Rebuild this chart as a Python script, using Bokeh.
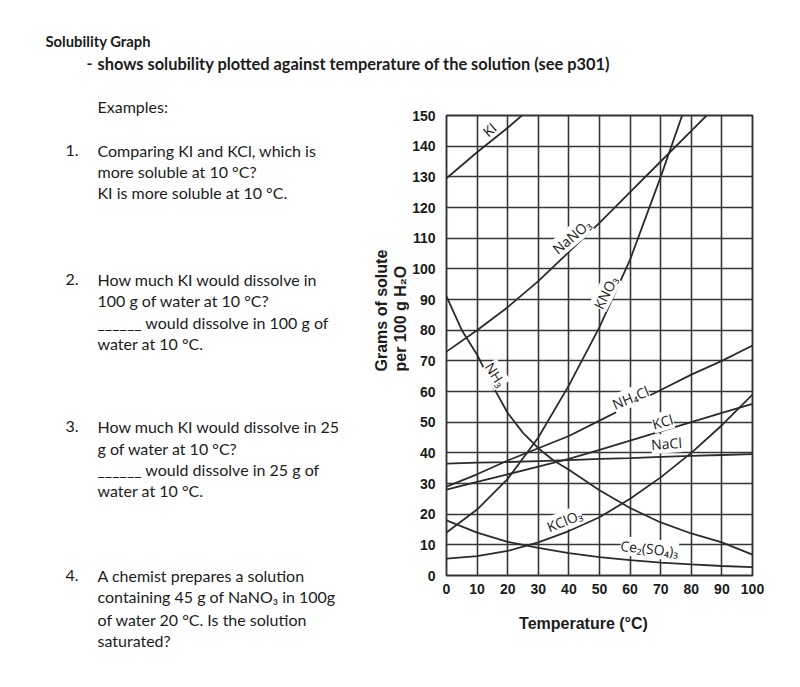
from math import radians
from bokeh.plotting import figure
from bokeh.models import Range1d, Label, FixedTicker
from bokeh.layouts import column, row
from bokeh.core.properties import value
from bokeh.embed import file_html
from bokeh.resources import INLINE

# ---------------- data ----------------
temps = [0, 10, 20, 30, 40, 50, 60, 70, 80, 90, 100]

ki_t = [0, 10, 20, 25]
ki_s = [129.5, 138, 146, 150.3]

nano3_t = [0, 10, 20, 30, 40, 50, 60, 70, 80, 85]
nano3_s = [73, 80, 87.5, 96, 105.5, 115, 125, 135, 145, 150]

kno3_t = [0, 10, 20, 30, 40, 50, 60, 70, 77]
kno3_s = [14, 21.5, 31.5, 45, 62, 81, 103, 130, 150]

nh3_t = [0, 5, 10, 15, 20, 25, 30, 35, 40, 50, 60, 70, 80, 90, 100]
nh3_s = [91, 80, 72, 62, 53, 46.5, 41.5, 37.5, 34.5, 27.8, 22, 17.3, 13.7, 10.8, 6.8]

nh4cl_s = [29, 33, 37.5, 41.5, 45.5, 50.5, 55.5, 60.5, 65.5, 70, 75]
kcl_s = [28, 30.5, 33, 35.5, 38, 41, 44, 47, 50, 53, 56]
nacl_s = [36.5, 36.8, 37, 37.3, 37.6, 38, 38.3, 38.7, 39, 39.3, 39.6]
kclo3_s = [5.5, 6.3, 8, 10.8, 14.5, 19, 25, 32, 40, 49, 59]
ce2so43_s = [18, 14, 11, 9, 7.3, 6, 5, 4.2, 3.6, 3.1, 2.7]

x_ticks = list(range(0, 101, 10))
y_ticks = list(range(0, 151, 10))

# ---------------- layout geometry (page pixels) ----------------
W = 784
Y_TOP = 88       # top strip: 0 .. 88
Y_MID = 606      # middle row: 88 .. 606
Y_END = 676      # bottom strip: 606 .. 676
X_SPLIT = 409    # left text panel: 0 .. 409, chart figure: 409 .. 784
FRAME_L, FRAME_T, FRAME_W, FRAME_H = 442, 115, 310, 460


def text_panel(x0, x1, y0, y1):
    f = figure(width=x1 - x0, height=y1 - y0, output_backend="svg",
               toolbar_location=None, tools="",
               x_range=Range1d(x0, x1), y_range=Range1d(y1, y0),
               x_axis_type=None, y_axis_type=None,
               min_border_left=0, min_border_right=0,
               min_border_top=0, min_border_bottom=0)
    f.outline_line_color = None
    f.background_fill_color = "white"
    f.border_fill_color = "white"
    f.frame_align = False
    return f


top = text_panel(0, W, 0, Y_TOP)
left = text_panel(0, X_SPLIT, Y_TOP, Y_MID)
bottom = text_panel(0, W, Y_MID, Y_END)


def put(fig, px, py, s, size="16px", font="Lato", bold=False, align="left",
        angle=0, color="#1c1c1c", baseline="alphabetic"):
    fig.text(x=[px], y=[py], text=[s], text_font=value(font),
             text_font_size=size, text_font_style="bold" if bold else "normal",
             text_align=align, text_baseline=baseline, angle=radians(angle),
             text_color=color)


# header
put(top, 45, 40, "Solubility Graph", bold=True, size="14.8px")
put(top, 86, 63, "-", bold=True, size="16px")
put(top, 97, 63, "shows solubility plotted against temperature of the solution (see p301)",
    bold=True, size="16.4px")

# left text panel
TX, NX = 97, 65
put(left, TX, 106, "Examples:")

put(left, NX, 150, "1.")
put(left, TX, 150, "Comparing KI and KCl, which is")
put(left, TX, 171, "more soluble at 10 °C?")
put(left, TX, 192, "KI is more soluble at 10 °C.")

put(left, NX, 279, "2.")
put(left, TX, 279, "How much KI would dissolve in")
put(left, TX, 300, "100 g of water at 10 °C?")
put(left, TX, 321.5, "______ would dissolve in 100 g of")
put(left, TX, 343, "water at 10 °C.")

put(left, NX, 426, "3.")
put(left, TX, 426, "How much KI would dissolve in 25")
put(left, TX, 447.5, "g of water at 10 °C?")
put(left, TX, 468.5, "______ would dissolve in 25 g of")
put(left, TX, 490, "water at 10 °C.")

put(left, NX, 575, "4.")
put(left, TX, 575, "A chemist prepares a solution")
put(left, TX, 596, "containing 45 g of NaNO₃ in 100g")
put(bottom, TX, 618.5, "of water 20 °C.  Is the solution")
put(bottom, TX, 640, "saturated?")

# axis titles
put(left, 381, 371, "Grams of solute", size="16px", font="Liberation Sans",
    bold=True, angle=90)
put(left, 400, 371, "per 100 g H₂O", size="16px", font="Liberation Sans",
    bold=True, angle=90)
put(bottom, 583, 623, "Temperature (°C)", size="16px", font="Liberation Sans",
    bold=True, align="center")

# ---------------- chart ----------------
p = figure(width=W - X_SPLIT, height=Y_MID - Y_TOP, output_backend="svg",
           toolbar_location=None, tools="",
           x_range=Range1d(0, 100), y_range=Range1d(0, 150),
           min_border_left=FRAME_L - X_SPLIT,
           min_border_right=W - FRAME_L - FRAME_W,
           min_border_top=FRAME_T - Y_TOP,
           min_border_bottom=Y_MID - FRAME_T - FRAME_H)
p.frame_align = False
p.background_fill_color = "white"
p.border_fill_color = "white"
p.outline_line_color = "#333333"
p.outline_line_width = 1.9

for ax in (p.xaxis[0], p.yaxis[0]):
    ax.axis_line_color = None
    ax.major_tick_line_color = None
    ax.minor_tick_line_color = None
    ax.major_label_text_font = "Liberation Sans"
    ax.major_label_text_font_style = "bold"
    ax.major_label_text_font_size = "14px"
    ax.major_label_text_color = "#1a1a1a"
p.xaxis.ticker = FixedTicker(ticks=x_ticks)
p.yaxis.ticker = FixedTicker(ticks=y_ticks)
p.xaxis.major_label_standoff = 2
p.yaxis.major_label_standoff = 5

p.xgrid.ticker = FixedTicker(ticks=x_ticks)
p.ygrid.ticker = FixedTicker(ticks=y_ticks)
for g in (p.xgrid[0], p.ygrid[0]):
    g.grid_line_color = "#363636"
    g.grid_line_width = 1.6

LC = "#2b2b2b"
LW = 1.8
p.line(ki_t, ki_s, line_color=LC, line_width=LW)
p.line(nano3_t, nano3_s, line_color=LC, line_width=LW)
p.line(kno3_t, kno3_s, line_color=LC, line_width=LW)
p.line(nh3_t, nh3_s, line_color=LC, line_width=LW)
p.line(temps, nh4cl_s, line_color=LC, line_width=LW)
p.line(temps, kcl_s, line_color=LC, line_width=LW)
p.line(temps, nacl_s, line_color=LC, line_width=LW)
p.line(temps, kclo3_s, line_color=LC, line_width=LW)
p.line(temps, ce2so43_s, line_color=LC, line_width=LW)


def tag(px, py, s, angle=0, bg=True, size="14px"):
    # screen units are relative to the frame's lower-left corner
    lab = Label(x=px - FRAME_L, y=FRAME_T + FRAME_H - py,
                x_units="screen", y_units="screen", text=s,
                text_font="Open Sans", text_font_size=size,
                text_align="center", text_baseline="middle",
                angle=radians(angle), text_color="#222222")
    if bg:
        lab.background_fill_color = "white"
        lab.background_fill_alpha = 1.0
    p.add_layout(lab)


tag(485, 129, "KI", angle=40, bg=False)
tag(567, 236, "NaNO₃", angle=40)
tag(601, 292, "KNO₃", angle=63)
tag(491, 374, "NH₃", angle=-57)
tag(626, 397, "NH₄Cl", angle=23)
tag(658, 421, "KCl", angle=16)
tag(662, 443, "NaCl", angle=4)
tag(560, 520, "KClO₃", angle=22)
tag(645, 548, "Ce₂(SO₄)₃", angle=-6)

layout = column(top, row(left, p, spacing=0), bottom, spacing=0)
open("out.html", "w").write(file_html(layout, INLINE))
